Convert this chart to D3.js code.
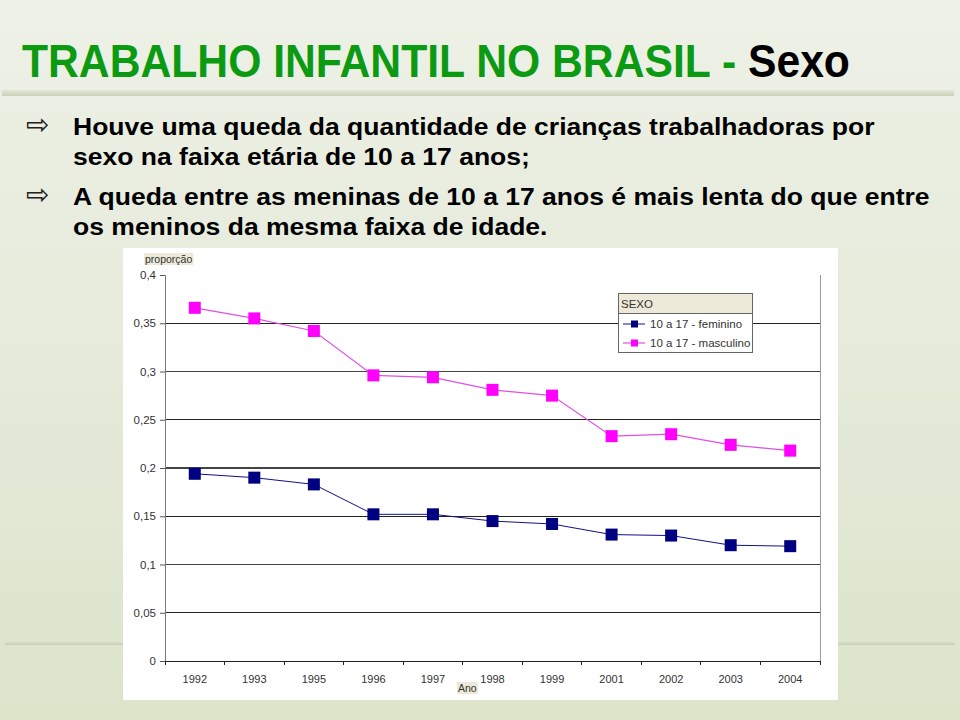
<!DOCTYPE html>
<html><head><meta charset="utf-8">
<script src="https://cdn.jsdelivr.net/npm/d3@7"></script>
<style>body{margin:0;background:#fff}svg{display:block}</style>
</head><body>
<svg id="c" width="960" height="720"></svg>
<script>
const years = ["1992","1993","1995","1996","1997","1998","1999","2001","2002","2003","2004"];
const feminino = [0.194,0.190,0.183,0.152,0.152,0.145,0.142,0.131,0.130,0.120,0.119];
const masculino = [0.366,0.355,0.342,0.296,0.294,0.281,0.275,0.233,0.235,0.224,0.218];
const yTicks = [0,0.05,0.1,0.15,0.2,0.25,0.3,0.35,0.4];
const yTickLabels = ["0","0,05","0,1","0,15","0,2","0,25","0,3","0,35","0,4"];
const seriesNames = ["10 a 17 - feminino","10 a 17 - masculino"];
const titleGreen = "TRABALHO INFANTIL NO BRASIL - ";
const titleBlack = "Sexo";
const bullets = [
  ["Houve uma queda da quantidade de crianças trabalhadoras por","sexo na faixa etária de 10 a 17 anos;"],
  ["A queda entre as meninas de 10 a 17 anos é mais lenta do que entre","os meninos da mesma faixa de idade."]
];

const svg = d3.select("#c");
const defs = svg.append("defs");
const bg = defs.append("linearGradient").attr("id","bg").attr("x1",0).attr("y1",0).attr("x2",0).attr("y2",1);
bg.append("stop").attr("offset","0%").attr("stop-color","#eef1e6");
bg.append("stop").attr("offset","50%").attr("stop-color","#e5eada");
bg.append("stop").attr("offset","100%").attr("stop-color","#dce4ca");
svg.append("rect").attr("width",960).attr("height",720).attr("fill","url(#bg)");
const band = defs.append("linearGradient").attr("id","band").attr("x1",0).attr("y1",0).attr("x2",0).attr("y2",1);
band.append("stop").attr("offset","0%").attr("stop-color","#e2e7d6");
band.append("stop").attr("offset","100%").attr("stop-color","#c9d1b8");
svg.append("rect").attr("x",2).attr("y",90).attr("width",952).attr("height",6).attr("fill","url(#band)");
svg.append("rect").attr("x",5).attr("y",640).attr("width",950).attr("height",5).attr("fill","url(#band)");

function fitText(sel, targetW, x){
  const w = sel.node().getComputedTextLength();
  sel.attr("transform", `translate(${x},0) scale(${targetW/w},1) translate(${-x},0)`);
  return targetW/w;
}
// Title
const title = svg.append("text").attr("x",22).attr("y",77)
  .attr("font-family","'Liberation Sans Narrow','Liberation Sans',Arial,sans-serif")
  .attr("font-weight","bold").attr("font-size",46);
title.append("tspan").attr("fill","#0c9a12").text(titleGreen);
title.append("tspan").attr("fill","#000").text(titleBlack);
fitText(title, 828, 22);

// Bullets
const lineY = [[135,165],[205,235]];
let sc = null;
bullets.forEach((b,i)=>{
  svg.append("text").attr("x",26).attr("y",lineY[i][0]-1)
    .attr("font-family","'DejaVu Sans',sans-serif").attr("font-size",28).attr("fill","#222")
    .text("\u21E8");
  b.forEach((t,j)=>{
    const s = svg.append("text").attr("x",73).attr("y",lineY[i][j])
      .attr("font-family","'Liberation Sans',Arial,sans-serif").attr("font-weight","bold")
      .attr("font-size",23).attr("fill","#000").text(t);
    if (sc === null) sc = fitText(s, 802, 73);
    else s.attr("transform", `translate(73,0) scale(${sc},1) translate(-73,0)`);
  });
});

// Chart panel
svg.append("rect").attr("x",123).attr("y",248).attr("width",715).attr("height",452).attr("fill","#fff");

const x = d3.scaleBand().domain(years).range([165,820]);
const y = d3.scaleLinear().domain([0,0.4]).range([661,275]);
const fontAx = "'Liberation Sans',Arial,sans-serif";

svg.append("g").selectAll("line").data(yTicks.filter(d=>d>0 && d<0.4)).join("line")
  .attr("x1",165).attr("x2",820).attr("y1",d=>y(d)).attr("y2",d=>y(d))
  .attr("stroke",(d,i)=> i%2===0 ? "#222" : "#444").attr("stroke-width",1.2).attr("shape-rendering","crispEdges");
svg.append("line").attr("x1",820).attr("x2",820).attr("y1",275).attr("y2",661)
  .attr("stroke","#999").attr("shape-rendering","crispEdges");

const yAxis = svg.append("g").attr("transform","translate(165,0)")
  .call(d3.axisLeft(y).tickValues(yTicks).tickSize(5).tickFormat((d,i)=>yTickLabels[i]));
yAxis.select(".domain").attr("stroke","#777");
yAxis.selectAll(".tick line").attr("stroke","#555");
yAxis.selectAll("text").attr("font-family",fontAx).attr("font-size",11.5).attr("fill","#333").attr("x",-9);

const xAxis = svg.append("g").attr("transform","translate(0,661)")
  .call(d3.axisBottom(x).tickSize(0).tickSizeOuter(0));
xAxis.select(".domain").attr("stroke","#222").attr("stroke-width",1.2);
xAxis.selectAll("text").attr("font-family",fontAx).attr("font-size",11).attr("fill","#333").attr("dy","1.75em");
svg.append("g").selectAll("line").data(years.concat(["end"])).join("line")
  .attr("x1",(d,i)=>165+i*x.step()).attr("x2",(d,i)=>165+i*x.step())
  .attr("y1",661).attr("y2",665).attr("stroke","#222").attr("shape-rendering","crispEdges");

function labelBox(txt, lx, ly){
  const g = svg.append("g");
  const t = g.append("text").attr("x",lx).attr("y",ly).attr("font-family",fontAx).attr("font-size",10.5)
    .attr("fill","#333").text(txt);
  const bb = t.node().getBBox();
  g.insert("rect","text").attr("x",bb.x-1).attr("y",bb.y).attr("width",bb.width+2).attr("height",bb.height)
    .attr("fill","#ece9d8");
}
labelBox("proporção",145,263);
labelBox("Ano",458,692);

const series = [
  {name:seriesNames[0], values:feminino, color:"#000080", line:"#10108a", lw:1},
  {name:seriesNames[1], values:masculino, color:"#ff00ff", line:"#e050e0", lw:1.2}
];
const lineGen = d3.line().x((d,i)=>x(years[i])+x.bandwidth()/2).y(d=>y(d));
const ms = 12;
series.forEach(s=>{
  svg.append("path").datum(s.values).attr("d",lineGen).attr("fill","none")
    .attr("stroke",s.line).attr("stroke-width",s.lw);
  svg.append("g").selectAll("rect").data(s.values).join("rect")
    .attr("x",(d,i)=>x(years[i])+x.bandwidth()/2-ms/2).attr("y",d=>y(d)-ms/2)
    .attr("width",ms).attr("height",ms).attr("fill",s.color);
});

const lg = svg.append("g");
lg.append("rect").attr("x",618.5).attr("y",293.5).attr("width",134).attr("height",59)
  .attr("fill","#fff").attr("stroke","#666");
lg.append("rect").attr("x",619).attr("y",294).attr("width",133).attr("height",19).attr("fill","#ece9d8");
lg.append("line").attr("x1",619).attr("x2",752).attr("y1",313.5).attr("y2",313.5).attr("stroke","#666");
lg.append("text").attr("x",621).attr("y",308).attr("font-family",fontAx).attr("font-size",11.5).attr("fill","#333").text("SEXO");
series.forEach((s,i)=>{
  const ly = 324 + i*19;
  lg.append("line").attr("x1",623).attr("x2",645).attr("y1",ly).attr("y2",ly).attr("stroke",s.line).attr("stroke-width",s.lw);
  lg.append("rect").attr("x",631).attr("y",ly-3.5).attr("width",7).attr("height",7).attr("fill",s.color);
  lg.append("text").attr("x",650).attr("y",ly+4).attr("font-family",fontAx).attr("font-size",11.5).attr("fill","#333").text(s.name);
});
</script>
</body></html>
